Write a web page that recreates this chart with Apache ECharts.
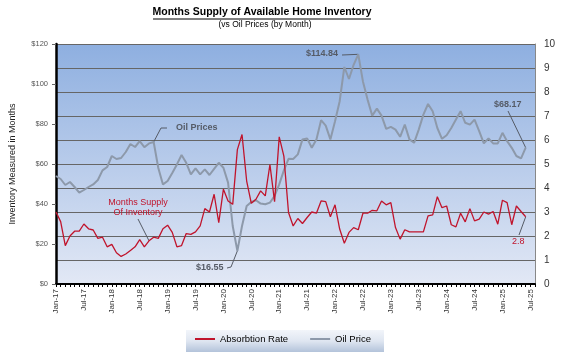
<!DOCTYPE html>
<html><head><meta charset="utf-8">
<script src="https://cdn.jsdelivr.net/npm/echarts@6/dist/echarts.min.js"></script>
<style>html,body{margin:0;padding:0;background:#fff}#c{width:566px;height:359px}</style>
</head><body><div id="c"></div>
<script>
const months = ['Jan-17','Feb-17','Mar-17','Apr-17','May-17','Jun-17','Jul-17','Aug-17','Sep-17','Oct-17','Nov-17','Dec-17',
'Jan-18','Feb-18','Mar-18','Apr-18','May-18','Jun-18','Jul-18','Aug-18','Sep-18','Oct-18','Nov-18','Dec-18',
'Jan-19','Feb-19','Mar-19','Apr-19','May-19','Jun-19','Jul-19','Aug-19','Sep-19','Oct-19','Nov-19','Dec-19',
'Jan-20','Feb-20','Mar-20','Apr-20','May-20','Jun-20','Jul-20','Aug-20','Sep-20','Oct-20','Nov-20','Dec-20',
'Jan-21','Feb-21','Mar-21','Apr-21','May-21','Jun-21','Jul-21','Aug-21','Sep-21','Oct-21','Nov-21','Dec-21',
'Jan-22','Feb-22','Mar-22','Apr-22','May-22','Jun-22','Jul-22','Aug-22','Sep-22','Oct-22','Nov-22','Dec-22',
'Jan-23','Feb-23','Mar-23','Apr-23','May-23','Jun-23','Jul-23','Aug-23','Sep-23','Oct-23','Nov-23','Dec-23',
'Jan-24','Feb-24','Mar-24','Apr-24','May-24','Jun-24','Jul-24','Aug-24','Sep-24','Oct-24','Nov-24','Dec-24',
'Jan-25','Feb-25','Mar-25','Apr-25','May-25','Jun-25','Jul-25','Aug-25'];

const absorptionRate = [3.0,2.6,1.6,2.0,2.2,2.2,2.5,2.3,2.25,1.9,1.95,1.55,
1.65,1.3,1.15,1.25,1.4,1.55,1.85,1.55,1.8,1.95,1.9,2.3,
2.45,2.15,1.55,1.6,2.1,2.07,2.17,2.42,3.14,3.0,3.74,2.56,
3.95,3.46,3.32,5.6,6.23,4.29,3.36,3.53,3.88,3.67,4.98,3.43,
6.13,5.33,2.98,2.42,2.73,2.52,2.77,3.0,2.95,3.46,3.43,2.8,
3.3,2.29,1.7,2.15,2.35,2.26,2.95,2.95,3.07,3.05,3.46,3.3,
3.39,2.35,1.87,2.26,2.17,2.17,2.17,2.17,2.84,2.88,3.64,3.18,
3.25,2.47,2.38,2.95,2.59,3.14,2.63,2.7,3.0,2.91,3.02,2.49,
3.49,3.39,2.47,3.25,3.02,2.8];

const oilPrice = [54,52.5,49.5,51,48.5,45.7,47,48.5,49.8,52,56.8,58.5,
64,62.5,63,66,70,68.5,71.4,68.4,70.3,71,58,49.8,
51.5,55.5,59.8,64.5,60.6,54.8,57.8,54.8,57.3,54.5,57.6,60.6,
58.1,50.7,29,16.55,29,39,41,41.9,40.2,39.9,40.7,44,
49.8,56.8,62.6,62.5,64.8,72.3,72.8,68.1,72.3,81.9,79.2,72.3,
81.4,91.4,108.5,102.5,109.6,114.84,101.3,92.2,84.2,87.7,84.2,77.6,
78.6,77.2,73.6,79.7,72.3,70.6,77.2,84.7,90,86.4,78,72.6,
74.4,78,82.2,86.4,80.6,79.7,82.2,76.4,70.3,72.8,70.3,70.3,
75.6,71.4,68.1,64,62.8,68.17];

const priceTicks = [0,20,40,60,80,100,120];
const monthTicks = [0,1,2,3,4,5,6,7,8,9,10];

const RED = '#c0142c', GRAY = '#8d99aa', FONT = 'Liberation Sans, Arial, sans-serif';
const chart = echarts.init(document.getElementById('c'));
const option = {
  animation: false,
  textStyle: {fontFamily: FONT},
  grid: {left: 54, right: 31, top: 44, bottom: 75,
    show: true, borderWidth: 0,
    backgroundColor: new echarts.graphic.LinearGradient(0,0,0,1,[{offset:0,color:'#8eafe0'},{offset:1,color:'#e2e8f5'}])},
  xAxis: {type: 'category', data: months, boundaryGap: false,
    axisLine: {lineStyle: {color: '#000', width: 2}},
    axisTick: {interval: 0, length: 3, lineStyle: {color: '#000'}},
    axisLabel: {interval: 5, rotate: 90, fontSize: 8, color: '#333', margin: 5}},
  yAxis: [
    {type: 'value', min: priceTicks[0], max: priceTicks[priceTicks.length-1], interval: 20, position: 'left',
     name: 'Inventory Measured in Months', nameLocation: 'middle', nameGap: 39, nameRotate: 90,
     nameTextStyle: {fontSize: 9, color: '#222'},
     axisLine: {show: true, lineStyle: {color: '#000', width: 2.5}},
     axisTick: {show: true, length: 4, lineStyle: {color: '#666'}},
     axisLabel: {formatter: v => '$' + v, fontSize: 7.5, color: '#555', margin: 8},
     splitLine: {show: false}},
    {type: 'value', min: monthTicks[0], max: monthTicks[monthTicks.length-1], interval: 1, position: 'right',
     axisLine: {show: true, lineStyle: {color: '#888', width: 1}},
     axisTick: {show: false},
     axisLabel: {fontSize: 10, color: '#333', margin: 9},
     splitLine: {show: true, lineStyle: {color: '#666', width: 1}}}
  ],
  legend: {bottom: 10, left: 'center', itemGap: 22, itemWidth: 20, itemHeight: 2, icon: 'rect',
    textStyle: {fontSize: 9.5, color: '#000', fontFamily: FONT},
    data: ['Absorbtion Rate', 'Oil Price']},
  series: [
    {name: 'Oil Price', type: 'line', yAxisIndex: 0, data: oilPrice, symbol: 'none',
     lineStyle: {color: GRAY, width: 2}, itemStyle: {color: GRAY}, z: 2},
    {name: 'Absorbtion Rate', type: 'line', yAxisIndex: 1, data: absorptionRate, symbol: 'none',
     lineStyle: {color: RED, width: 1.3}, itemStyle: {color: RED}, z: 3}
  ]
};
chart.setOption(option);

function px(seriesIdx, idx, val){ return chart.convertToPixel({seriesIndex: seriesIdx}, [idx, val]); }
const last = oilPrice.length - 1;
const peakIdx = oilPrice.indexOf(Math.max(...oilPrice));
const lowIdx = oilPrice.indexOf(Math.min(...oilPrice));
const pPeak = px(0, peakIdx, oilPrice[peakIdx]);
const pLow = px(0, lowIdx, oilPrice[lowIdx]);
const pOilEnd = px(0, last, oilPrice[last]);
const pRedEnd = px(1, last, absorptionRate[last]);
const pOilLbl = px(0, 21, oilPrice[21]);
const pRedLbl = px(1, 20, absorptionRate[20]);
const annGray = '#555b66';
const legendBg = new echarts.graphic.LinearGradient(0,0,0,1,[{offset:0,color:'#f2f5fa'},{offset:0.5,color:'#dfe6f1'},{offset:1,color:'#b3c3da'}]);

chart.setOption({graphic: [
  {type: 'rect', z: -1, shape: {x: 186, y: 330, width: 198, height: 22}, style: {fill: legendBg}, silent: true},
  {type: 'text', x: 262, y: 7, style: {text: 'Months Supply of Available Home Inventory', font: 'bold 10.5px ' + FONT, fill: '#000', textAlign: 'center'}},
  {type: 'line', shape: {x1: 153, y1: 19, x2: 371, y2: 19}, style: {stroke: '#000', lineWidth: 1}},
  {type: 'text', x: 265, y: 20, style: {text: '(vs Oil Prices (by Month)', font: '8.5px ' + FONT, fill: '#000', textAlign: 'center'}},
  {type: 'text', x: 176, y: 123, style: {text: 'Oil Prices', font: 'bold 9px ' + FONT, fill: annGray}},
  {type: 'polyline', shape: {points: [[pOilLbl[0], pOilLbl[1]], [161, 128], [167, 128]]}, style: {stroke: annGray, lineWidth: 1, fill: null}},
  {type: 'text', x: 306, y: 49, style: {text: '$114.84', font: 'bold 9px ' + FONT, fill: annGray}},
  {type: 'line', shape: {x1: 342, y1: 55, x2: pPeak[0], y2: pPeak[1]}, style: {stroke: annGray, lineWidth: 1}},
  {type: 'text', x: 196, y: 263, style: {text: '$16.55', font: 'bold 9px ' + FONT, fill: annGray}},
  {type: 'polyline', shape: {points: [[227, 268], [231, 267], [pLow[0], pLow[1]]]}, style: {stroke: annGray, lineWidth: 1, fill: null}},
  {type: 'text', x: 494, y: 100, style: {text: '$68.17', font: 'bold 9px ' + FONT, fill: annGray}},
  {type: 'line', shape: {x1: 508, y1: 111, x2: pOilEnd[0], y2: pOilEnd[1]}, style: {stroke: annGray, lineWidth: 1}},
  {type: 'text', x: 512, y: 237, style: {text: '2.8', font: '9px ' + FONT, fill: RED}},
  {type: 'line', shape: {x1: 519, y1: 235, x2: pRedEnd[0], y2: pRedEnd[1]}, style: {stroke: annGray, lineWidth: 1}},
  {type: 'text', x: 138, y: 198, style: {text: 'Months Supply\nOf Inventory', font: '9px ' + FONT, fill: RED, textAlign: 'center', lineHeight: 10}},
  {type: 'line', shape: {x1: 138, y1: 219, x2: pRedLbl[0], y2: pRedLbl[1]}, style: {stroke: annGray, lineWidth: 1}}
]});
</script></body></html>
